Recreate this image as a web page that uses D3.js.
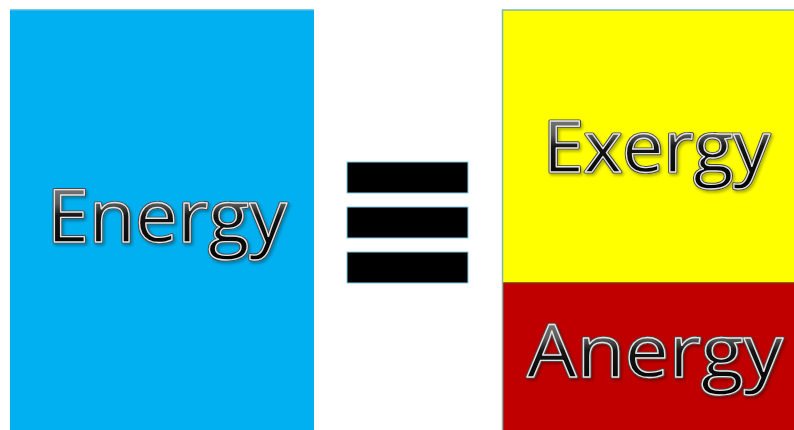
<!DOCTYPE html>
<meta charset="utf-8">
<style>
body { margin: 0; background: #fff; }
svg { display: block; }
text { font-family: "Open Sans", "Noto Sans", sans-serif; }
</style>
<svg width="794" height="430"></svg>
<script src="https://cdn.jsdelivr.net/npm/d3@7/dist/d3.min.js"></script>
<script>

// Energy = Exergy + Anergy (shares of the total)
var total = ["Energy"];
var totalValues = [100];
var parts = ["Exergy", "Anergy"];
var partValues = [65, 35];
var partColors = ["#ffff00", "#c00000"];
var equalsBars = [0, 1, 2];

var svg = d3.select("svg"),
    W = +svg.attr("width"),
    H = +svg.attr("height");

// vertical scale: the whole energy is the full column height
var y = d3.scaleLinear().domain([0, 100]).range([10, 430]);

var defs = svg.append("defs");
var grad = defs.append("linearGradient")
    .attr("id", "metal")
    .attr("x1", 0).attr("y1", 0).attr("x2", 0).attr("y2", 1);
grad.append("stop").attr("offset", "0%").attr("stop-color", "#a0a0a0");
grad.append("stop").attr("offset", "40%").attr("stop-color", "#5a5a5a");
grad.append("stop").attr("offset", "52%").attr("stop-color", "#151515");
grad.append("stop").attr("offset", "100%").attr("stop-color", "#000");

var shadow = defs.append("filter").attr("id", "shadow")
    .attr("x", "-10%").attr("y", "-10%").attr("width", "120%").attr("height", "130%");
shadow.append("feDropShadow")
    .attr("dx", 1.5).attr("dy", 2).attr("stdDeviation", 1.5)
    .attr("flood-color", "#000").attr("flood-opacity", 0.35);

function fancyText(g, label, x, yBase, size, len) {
  // soft dark outer edge
  g.append("text")
      .attr("x", x).attr("y", yBase)
      .attr("font-size", size)
      .attr("textLength", len).attr("lengthAdjust", "spacingAndGlyphs")
      .attr("fill", "none")
      .attr("stroke", "#4a4a4a")
      .attr("stroke-width", 3.2)
      .attr("stroke-linejoin", "round")
      .attr("filter", "url(#shadow)")
      .text(label);
  g.append("text")
      .attr("x", x).attr("y", yBase)
      .attr("font-size", size)
      .attr("textLength", len).attr("lengthAdjust", "spacingAndGlyphs")
      .attr("fill", "url(#metal)")
      .attr("stroke", "#e4e4e4")
      .attr("stroke-width", 1.3)
      .attr("stroke-linejoin", "round")
      .text(label);
}

// left column: energy
var left = svg.append("g");
left.selectAll("rect")
    .data(totalValues)
    .enter().append("rect")
      .attr("x", 10)
      .attr("y", y(0))
      .attr("width", 304)
      .attr("height", function(d) { return y(d) - y(0); })
      .attr("fill", "#00b0f0");
left.append("line")
    .attr("x1", 10).attr("x2", 314)
    .attr("y1", y(0)).attr("y2", y(0))
    .attr("stroke", "#4ab8e6").attr("stroke-width", 1.5);
fancyText(left, total[0], 47, 242, 73, 240);

// equals sign
var eq = svg.append("g");
eq.selectAll("rect")
    .data(equalsBars)
    .enter().append("rect")
      .attr("x", 347)
      .attr("y", function(d) { return 162 + d * 45; })
      .attr("width", 121)
      .attr("height", 31)
      .attr("fill", "#000")
      .attr("stroke", "#7ccde8")
      .attr("stroke-width", 1);

// right column: exergy on top of anergy
var stacked = [];
var acc = 0;
partValues.forEach(function(v, i) {
  stacked.push({ label: parts[i], y0: acc, y1: acc + v, color: partColors[i] });
  acc += v;
});

var right = svg.append("g");
right.selectAll("rect")
    .data(stacked)
    .enter().append("rect")
      .attr("x", 502)
      .attr("y", function(d) { return y(d.y0); })
      .attr("width", W - 502 + 2)
      .attr("height", function(d) { return y(d.y1) - y(d.y0); })
      .attr("fill", function(d) { return d.color; });
right.append("line")
    .attr("x1", 502).attr("x2", W)
    .attr("y1", y(partValues[0])).attr("y2", y(partValues[0]))
    .attr("stroke", "#8a2a00").attr("stroke-width", 1.5);
right.append("path")
    .attr("d", "M" + W + "," + y(0) + "H502.5V" + H)
    .attr("fill", "none")
    .attr("stroke", "#7fb7b4").attr("stroke-width", 1.5);

fancyText(right, stacked[0].label, 543, 172, 71, 227);
fancyText(right, stacked[1].label, 527, 377, 73, 256);

</script>
